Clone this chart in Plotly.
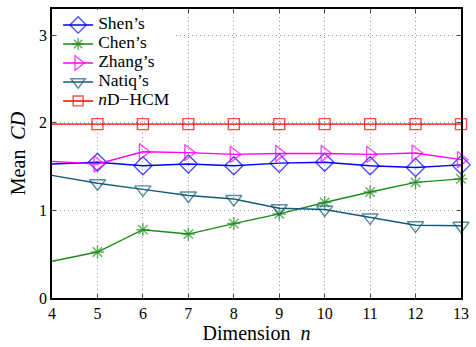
import plotly.graph_objects as go

dims = [4, 5, 6, 7, 8, 9, 10, 11, 12, 13]
shen = [1.53, 1.55, 1.51, 1.53, 1.51, 1.54, 1.55, 1.51, 1.49, 1.52]
chen = [0.42, 0.525, 0.78, 0.73, 0.85, 0.96, 1.09, 1.21, 1.32, 1.36]
zhang = [1.56, 1.53, 1.67, 1.66, 1.64, 1.65, 1.65, 1.64, 1.655, 1.58]
natiq = [1.40, 1.31, 1.24, 1.17, 1.13, 1.025, 1.01, 0.92, 0.83, 0.825]
ndhcm = [1.985, 1.985, 1.985, 1.985, 1.985, 1.985, 1.985, 1.985, 1.985, 1.985]

series = [
    ("Shen’s", shen, "#0000ff", "diamond-open", 14),
    ("Chen’s", chen, "#1a8c1a", "asterisk-open", 11),
    ("Zhang’s", zhang, "#ff00ff", "triangle-right-open", 14),
    ("Natiq’s", natiq, "#155a78", "triangle-down-open", 14),
    ("<i>n</i>D−HCM", ndhcm, "#ff0000", "square-open", 11),
]

fig = go.Figure()
for name, vals, color, sym, size in series:
    sizes = [0] + [size] * (len(vals) - 1)
    fig.add_trace(go.Scatter(
        x=dims, y=vals, name='<span style="font-size:17.5px">' + name + '</span>',
        mode="lines+markers",
        line=dict(color=color, width=1.4),
        marker=dict(symbol=sym, size=sizes, color=color, line=dict(color=color, width=1.4)),
        cliponaxis=False,
    ))

font = "Liberation Serif, Times New Roman, serif"
fig.update_layout(
    width=476, height=347,
    margin=dict(l=52, r=12, t=7, b=46),
    paper_bgcolor="white", plot_bgcolor="white",
    font=dict(family=font, size=16, color="black"),
    showlegend=True,
    legend=dict(x=0.015, y=0.995, xanchor="left", yanchor="top",
                bgcolor="white", borderwidth=0,
                font=dict(family=font, size=11),
                tracegroupgap=0, itemwidth=30),
)
fig.update_xaxes(
    range=[4, 13], tickvals=dims, ticks="inside", ticklen=4,
    showline=True, linecolor="black", linewidth=1.5, mirror="ticks",
    showgrid=True, gridcolor="#9a9a9a", griddash="1px,3px", gridwidth=1,
    zeroline=False,
    title=dict(text="Dimension  <i>n</i>", font=dict(family=font, size=20), standoff=4),
    tickfont=dict(family=font, size=16),
)
fig.update_yaxes(
    range=[0, 3.3], tickvals=[0, 1, 2, 3], ticks="inside", ticklen=4,
    showline=True, linecolor="black", linewidth=1.5, mirror="ticks",
    showgrid=True, gridcolor="#9a9a9a", griddash="1px,3px", gridwidth=1,
    zeroline=False,
    title=dict(text="Mean  <i>CD</i>", font=dict(family=font, size=20), standoff=8),
    tickfont=dict(family=font, size=16),
)
fig.write_html("out.html")
